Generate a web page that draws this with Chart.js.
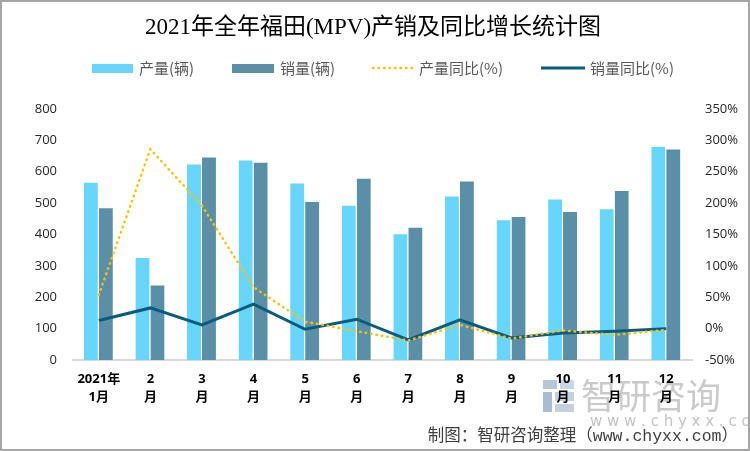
<!DOCTYPE html>
<html>
<head>
<meta charset="utf-8">
<script src="https://cdn.jsdelivr.net/npm/chart.js@4/dist/chart.umd.min.js"></script>
<style>
  html, body { margin: 0; padding: 0; background: #fff; }
  #wrap { position: relative; width: 750px; height: 451px; }
  #wrap:after { content: ""; position: absolute; left: 0; top: 0; right: 0; bottom: 0; border: 2px solid #A6A6A6; box-sizing: border-box; pointer-events: none; }
  canvas { display: block; }
</style>
</head>
<body>
<div id="wrap"><canvas id="c" width="750" height="451"></canvas></div>
<script>
const titleText = '2021年全年福田(MPV)产销及同比增长统计图';
const categories = [['2021年','1月'],['2','月'],['3','月'],['4','月'],['5','月'],['6','月'],['7','月'],['8','月'],['9','月'],['10','月'],['11','月'],['12','月']];
const seriesNames = ['产量(辆)', '销量(辆)', '产量同比(%)', '销量同比(%)'];
const production = [568, 328, 626, 639, 566, 495, 404, 524, 449, 515, 484, 682];
const sales = [487, 241, 649, 632, 507, 581, 425, 572, 459, 475, 542, 674];
const productionYoY = [54, 286, 196, 66, 11, -4, -19, 6, -16, -3, -10, -2];
const salesYoY = [13, 33, 6, 39, -1, 15, -18, 14, -15, -7, -4, 0];
const leftTicks = [0, 100, 200, 300, 400, 500, 600, 700, 800];
const rightTicks = [-50, 0, 50, 100, 150, 200, 250, 300, 350];
const footerText = '制图：智研咨询整理（www.chyxx.com）';

const colors = { prod: '#68D5FD', sales: '#5B8FA7', prodYoY: '#FFC000', salesYoY: '#0A5C7E' };

const decorPlugin = {
  id: 'decor',
  beforeDraw(chart) {
    const ctx = chart.ctx;
    ctx.save();
    // watermark
    ctx.fillStyle = '#B7C7D8';
    ctx.fillRect(543, 380, 14, 9);
    ctx.fillStyle = '#C9D6E3';
    ctx.fillRect(560, 380, 14, 9);
    ctx.fillStyle = '#A9BDD1';
    ctx.fillRect(543, 392, 9, 20);
    ctx.fillStyle = '#C3D1DF';
    ctx.fillRect(555, 392, 19, 9);
    ctx.fillRect(555, 404, 19, 8);
    ctx.fillStyle = '#CACACA';
    ctx.font = '35px "Noto Sans CJK SC"';
    ctx.textAlign = 'left';
    ctx.textBaseline = 'middle';
    ctx.fillText('智研咨询', 581, 396);
    ctx.font = '15px "DejaVu Sans"';
    ctx.fillStyle = '#C4C4C4';
    ctx.fillText('w w w . c h y x x . c o m', 590, 422);
    ctx.restore();
  },
  afterDraw(chart) {
    const ctx = chart.ctx;
    ctx.save();
    // title
    ctx.fillStyle = '#000';
    ctx.font = '23px "Liberation Serif", "Noto Sans CJK SC"';
    ctx.textAlign = 'center';
    ctx.textBaseline = 'middle';
    ctx.fillText(titleText, 373, 28);
    // legend
    ctx.font = '15px "Noto Sans CJK SC"';
    ctx.textAlign = 'left';
    const ly = 68;
    ctx.fillStyle = colors.prod;
    ctx.fillRect(92, ly - 4, 41, 9);
    ctx.fillStyle = colors.sales;
    ctx.fillRect(232, ly - 4, 42, 9);
    ctx.strokeStyle = colors.prodYoY;
    ctx.lineWidth = 2.5;
    ctx.lineCap = 'round';
    ctx.setLineDash([0.5, 5]);
    ctx.beginPath(); ctx.moveTo(373, ly); ctx.lineTo(412, ly); ctx.stroke();
    ctx.setLineDash([]);
    ctx.lineCap = 'butt';
    ctx.strokeStyle = colors.salesYoY;
    ctx.lineWidth = 3;
    ctx.beginPath(); ctx.moveTo(541, ly); ctx.lineTo(585, ly); ctx.stroke();
    ctx.fillStyle = '#595959';
    ctx.fillText(seriesNames[0], 139, ly);
    ctx.fillText(seriesNames[1], 280, ly);
    ctx.fillText(seriesNames[2], 419, ly);
    ctx.fillText(seriesNames[3], 590, ly);
    // footer
    ctx.fillStyle = '#404040';
    ctx.font = '16.5px "Liberation Mono", "Noto Sans CJK SC"';
    ctx.textAlign = 'right';
    ctx.fillText(footerText, 738, 437);
    ctx.restore();
  }
};

new Chart(document.getElementById('c'), {
  type: 'bar',
  data: {
    labels: categories,
    datasets: [
      { type: 'bar', label: seriesNames[0], data: production, backgroundColor: colors.prod, borderColor: 'rgba(255,255,255,0.6)', borderWidth: {top: 1, left: 0, right: 1, bottom: 0}, yAxisID: 'y', order: 2, categoryPercentage: 0.58, barPercentage: 1.0 },
      { type: 'bar', label: seriesNames[1], data: sales, backgroundColor: colors.sales, borderColor: 'rgba(255,255,255,0.6)', borderWidth: {top: 1, left: 0, right: 1, bottom: 0}, yAxisID: 'y', order: 2, categoryPercentage: 0.58, barPercentage: 1.0 },
      { type: 'line', label: seriesNames[2], data: productionYoY, borderColor: colors.prodYoY, borderWidth: 2.5, borderDash: [0.5, 5], borderCapStyle: 'round', pointRadius: 0, tension: 0, fill: false, yAxisID: 'y1', order: 0 },
      { type: 'line', label: seriesNames[3], data: salesYoY, borderColor: colors.salesYoY, borderWidth: 3, pointRadius: 0, tension: 0, fill: false, yAxisID: 'y1', order: 1 }
    ]
  },
  options: {
    responsive: false,
    animation: false,
    events: [],
    layout: { padding: { top: 109, bottom: 42, left: 0, right: 0 } },
    plugins: { legend: { display: false }, title: { display: false }, tooltip: { enabled: false } },
    scales: {
      x: {
        offset: true,
        grid: { display: false, drawTicks: false },
        border: { display: true, color: '#D9D9D9', width: 2 },
        ticks: { color: '#000', font: { family: '"Noto Sans", "Noto Sans CJK SC"', size: 13, weight: 'bold', lineHeight: 1.35 }, padding: 11, maxRotation: 0, autoSkip: false },
        afterFit(scale) { scale.height = 49; }
      },
      y: {
        position: 'left',
        min: 0, max: 800,
        afterBuildTicks(scale) { scale.ticks = leftTicks.map(v => ({ value: v })); },
        grid: { display: false, drawTicks: false },
        border: { display: false },
        ticks: { color: '#262626', font: { family: '"Open Sans"', size: 13 }, padding: 16 },
        afterFit(scale) { scale.width = 73; }
      },
      y1: {
        position: 'right',
        min: -50, max: 350,
        afterBuildTicks(scale) { scale.ticks = rightTicks.map(v => ({ value: v })); },
        grid: { display: false, drawTicks: false },
        border: { display: false },
        ticks: { color: '#262626', font: { family: '"Open Sans"', size: 13 }, padding: 13, callback: v => v + '%' },
        afterFit(scale) { scale.width = 58; }
      }
    }
  },
  plugins: [decorPlugin]
});
</script>
</body>
</html>
